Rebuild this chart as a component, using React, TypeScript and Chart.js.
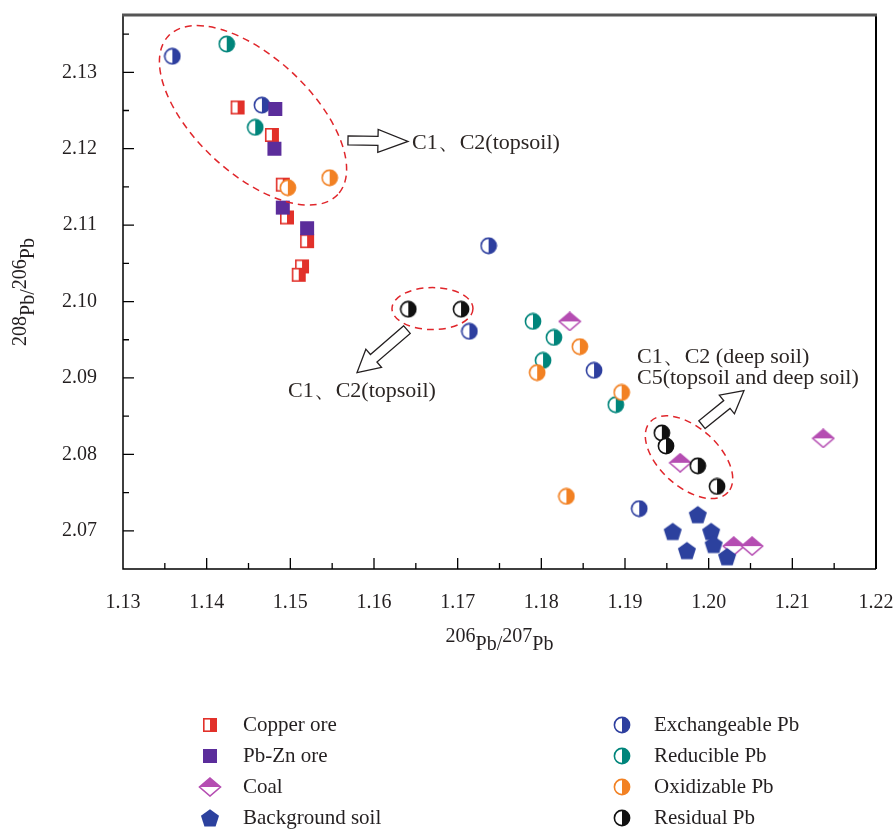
import React, { useEffect, useRef } from 'react';
import { Chart, registerables } from 'chart.js';

Chart.register(...registerables);

// ---------- data ----------
const copperX = [1.1437, 1.1478, 1.1491, 1.1496, 1.152, 1.1514, 1.151];
const copperY = [2.1254, 2.1218, 2.1153, 2.111, 2.1079, 2.1046, 2.1035];
const pbznX = [1.1482, 1.1481, 1.1491, 1.152];
const pbznY = [2.1252, 2.12, 2.1123, 2.1096];
const coalX = [1.1834, 1.1966, 1.2137, 1.203, 1.2052];
const coalY = [2.0974, 2.0789, 2.0821, 2.068, 2.068];
const bgX = [1.1987, 1.1957, 1.2003, 1.1974, 1.2006, 1.2022];
const bgY = [2.0721, 2.0699, 2.0699, 2.0674, 2.0682, 2.0666];
const exchX = [1.1359, 1.1466, 1.1737, 1.1714, 1.1863, 1.1917];
const exchY = [2.1321, 2.1257, 2.1073, 2.0961, 2.091, 2.0729];
const reduX = [1.1424, 1.1458, 1.179, 1.1815, 1.1802, 1.1889];
const reduY = [2.1337, 2.1228, 2.0974, 2.0953, 2.0923, 2.0865];
const oxiX = [1.1497, 1.1547, 1.1795, 1.1846, 1.1896, 1.183];
const oxiY = [2.1149, 2.1162, 2.0907, 2.0941, 2.0881, 2.0745];
const resX = [1.1641, 1.1704, 1.1944, 1.1949, 1.1987, 1.201];
const resY = [2.099, 2.099, 2.0828, 2.0811, 2.0785, 2.0758];

const xTicks = [1.13, 1.14, 1.15, 1.16, 1.17, 1.18, 1.19, 1.2, 1.21, 1.22];
const yTicks = [2.07, 2.08, 2.09, 2.1, 2.11, 2.12, 2.13];
const xMin = 1.13, xMax = 1.22, yMin = 2.065, yMax = 2.1375;

const legendLeft = ['Copper ore', 'Pb-Zn ore', 'Coal', 'Background soil'];
const legendRight = ['Exchangeable Pb', 'Reducible Pb', 'Oxidizable Pb', 'Residual Pb'];

// annotations (anchored in data units)
const ellipses = [
  { x: 1.14554, y: 2.12437, rx: 116, ry: 58, rot: 43 },
  { x: 1.16699, y: 2.09908, rx: 40.5, ry: 21, rot: 0 },
  { x: 1.19765, y: 2.07963, rx: 52.5, ry: 29.5, rot: 42 },
];
const arrows = [
  { x1: 1.15689, y1: 2.12109, x2: 1.16406, y2: 2.12096, shaft: 4.5, head: 11.5, len: 30 },
  { x1: 1.16394, y1: 2.09633, x2: 1.15797, y2: 2.0907, shaft: 5, head: 12, len: 22 },
  { x1: 1.1992, y1: 2.08389, x2: 1.20422, y2: 2.08834, shaft: 5, head: 12, len: 22 },
];
const notes = [
  { x: 1.16454, y: 2.1207, text: 'C1、C2(topsoil)' },
  { x: 1.14972, y: 2.08821, text: 'C1、C2(topsoil)' },
  { x: 1.19143, y: 2.09266, text: 'C1、C2 (deep soil)' },
  { x: 1.19143, y: 2.08991, text: 'C5(topsoil and deep soil)' },
];

const SERIF = "'Liberation Serif', 'DejaVu Serif', serif";

// ---------- marker images ----------
function mk(w: number, h: number, draw: (c: CanvasRenderingContext2D) => void) {
  const c = document.createElement('canvas');
  c.width = w;
  c.height = h;
  const ctx = c.getContext('2d')!;
  draw(ctx);
  return c;
}
const halfCircle = (color: string) =>
  mk(18, 18, (c) => {
    c.beginPath();
    c.arc(9, 9, 7.6, 0, Math.PI * 2);
    c.fillStyle = '#fff';
    c.fill();
    c.beginPath();
    c.arc(9, 9, 7.6, -Math.PI / 2, Math.PI / 2);
    c.closePath();
    c.fillStyle = color;
    c.fill();
    c.beginPath();
    c.arc(9, 9, 7.6, 0, Math.PI * 2);
    c.lineWidth = 1.6;
    c.strokeStyle = color;
    c.stroke();
  });
const halfSquare = (color: string) =>
  mk(16, 16, (c) => {
    c.fillStyle = '#fff';
    c.fillRect(1, 1, 14, 14);
    c.fillStyle = color;
    c.fillRect(8, 1, 7, 14);
    c.lineWidth = 1.6;
    c.strokeStyle = color;
    c.strokeRect(1.8, 1.8, 12.4, 12.4);
  });
const fullSquare = (color: string) =>
  mk(16, 16, (c) => {
    c.fillStyle = color;
    c.fillRect(1, 1, 14, 14);
  });
const halfDiamond = (color: string) =>
  mk(24, 20, (c) => {
    c.beginPath();
    c.moveTo(12, 1);
    c.lineTo(22.5, 10);
    c.lineTo(12, 19);
    c.lineTo(1.5, 10);
    c.closePath();
    c.fillStyle = '#fff';
    c.fill();
    c.lineWidth = 1.6;
    c.strokeStyle = color;
    c.stroke();
    c.beginPath();
    c.moveTo(12, 1);
    c.lineTo(22.5, 10);
    c.lineTo(1.5, 10);
    c.closePath();
    c.fillStyle = color;
    c.fill();
  });
const pentagon = (color: string) =>
  mk(22, 22, (c) => {
    c.beginPath();
    for (let k = 0; k < 5; k++) {
      const a = -Math.PI / 2 + (k * 2 * Math.PI) / 5;
      const px = 11 + 9.5 * Math.cos(a);
      const py = 11.8 + 9.5 * Math.sin(a);
      if (k === 0) c.moveTo(px, py);
      else c.lineTo(px, py);
    }
    c.closePath();
    c.fillStyle = color;
    c.fill();
  });

function drawArrow(ctx: CanvasRenderingContext2D, x1: number, y1: number, x2: number, y2: number, sh: number, hh: number, hl: number) {
  const dx = x2 - x1, dy = y2 - y1;
  const L = Math.hypot(dx, dy);
  const ux = dx / L, uy = dy / L;
  const nx = -uy, ny = ux;
  const bx = x2 - ux * hl, by = y2 - uy * hl;
  ctx.beginPath();
  ctx.moveTo(x1 + nx * sh, y1 + ny * sh);
  ctx.lineTo(bx + nx * sh, by + ny * sh);
  ctx.lineTo(bx + nx * hh, by + ny * hh);
  ctx.lineTo(x2, y2);
  ctx.lineTo(bx - nx * hh, by - ny * hh);
  ctx.lineTo(bx - nx * sh, by - ny * sh);
  ctx.lineTo(x1 - nx * sh, y1 - ny * sh);
  ctx.closePath();
  ctx.fillStyle = '#fff';
  ctx.fill();
  ctx.lineWidth = 1.3;
  ctx.strokeStyle = '#231f20';
  ctx.stroke();
}

function drawIsoLabel(ctx: CanvasRenderingContext2D, parts: [string, boolean][], cx: number, cy: number, size: number, raise: number) {
  ctx.font = `${size}px ${SERIF}`;
  const widths = parts.map((p) => ctx.measureText(p[0]).width);
  const total = widths.reduce((a, b) => a + b, 0);
  let x = cx - total / 2;
  ctx.textAlign = 'left';
  ctx.textBaseline = 'alphabetic';
  parts.forEach((p, i) => {
    ctx.fillText(p[0], x, cy - (p[1] ? raise : 0));
    x += widths[i];
  });
}

const zeroPad = (s: any) => {
  s.paddingLeft = 0;
  s.paddingRight = 0;
  s.paddingTop = 0;
  s.paddingBottom = 0;
};

export default function App() {
  const ref = useRef<HTMLCanvasElement>(null);
  useEffect(() => {
    const canvas = ref.current!;
    const styles = {
      copper: halfSquare('#e2312a'),
      pbzn: fullSquare('#5b2d9b'),
      coal: halfDiamond('#b54db2'),
      bg: pentagon('#2c419e'),
      exch: halfCircle('#2e3f9f'),
      redu: halfCircle('#00857b'),
      oxi: halfCircle('#f28123'),
      res: halfCircle('#111111'),
    };
    const pts = (xs: number[], ys: number[]) => xs.map((x, i) => ({ x, y: ys[i] }));
    const ds = (label: string, xs: number[], ys: number[], style: HTMLCanvasElement, order: number) => ({
      label,
      data: pts(xs, ys),
      pointStyle: style,
      pointRadius: 8,
      pointHoverRadius: 8,
      order,
      showLine: false,
    });

    const framePlugin = {
      id: 'frame',
      afterDraw(chart: any) {
        const ctx: CanvasRenderingContext2D = chart.ctx;
        const a = chart.chartArea;
        const xs = chart.scales.x, ys = chart.scales.y;
        ctx.save();
        // annotations
        ctx.setLineDash([7, 5]);
        ctx.strokeStyle = '#e0262b';
        ctx.lineWidth = 1.5;
        ellipses.forEach((e) => {
          ctx.beginPath();
          ctx.ellipse(xs.getPixelForValue(e.x), ys.getPixelForValue(e.y), e.rx, e.ry, (e.rot * Math.PI) / 180, 0, Math.PI * 2);
          ctx.stroke();
        });
        ctx.setLineDash([]);
        arrows.forEach((r) =>
          drawArrow(ctx, xs.getPixelForValue(r.x1), ys.getPixelForValue(r.y1), xs.getPixelForValue(r.x2), ys.getPixelForValue(r.y2), r.shaft, r.head, r.len)
        );
        ctx.fillStyle = '#2b2523';
        ctx.font = `22px ${SERIF}`;
        ctx.textAlign = 'left';
        ctx.textBaseline = 'middle';
        notes.forEach((n) => ctx.fillText(n.text, xs.getPixelForValue(n.x), ys.getPixelForValue(n.y)));

        // frame
        ctx.strokeStyle = '#000';
        ctx.lineWidth = 1.5;
        ctx.beginPath();
        ctx.moveTo(a.left, a.top);
        ctx.lineTo(a.left, a.bottom);
        ctx.lineTo(a.right, a.bottom);
        ctx.stroke();
        ctx.lineWidth = 2;
        ctx.beginPath();
        ctx.moveTo(a.right, a.top);
        ctx.lineTo(a.right, a.bottom);
        ctx.stroke();
        ctx.strokeStyle = '#555';
        ctx.lineWidth = 3;
        ctx.beginPath();
        ctx.moveTo(a.left - 1, a.top);
        ctx.lineTo(a.right + 1, a.top);
        ctx.stroke();

        // ticks (inward), major + minor
        ctx.strokeStyle = '#000';
        ctx.lineWidth = 1.3;
        ctx.beginPath();
        const xVals: number[] = [];
        xTicks.forEach((v, i) => {
          xVals.push(v);
          if (i < xTicks.length - 1) xVals.push(-(v + xTicks[i + 1]) / 2);
        });
        xVals.forEach((v) => {
          const minor = v < 0;
          const val = Math.abs(v);
          if (val <= xMin + 1e-6 || val >= xMax - 1e-6) return;
          const px = xs.getPixelForValue(val);
          ctx.moveTo(px, a.bottom);
          ctx.lineTo(px, a.bottom - (minor ? 6 : 11));
        });
        const yVals: number[] = [];
        yTicks.forEach((v, i) => {
          yVals.push(v);
          yVals.push(-(v - (i === 0 ? 0.005 : (v - yTicks[i - 1]) / 2)));
        });
        yVals.push(-(yTicks[yTicks.length - 1] + 0.005));
        yVals.forEach((v) => {
          const minor = v < 0;
          const val = Math.abs(v);
          if (val <= yMin + 1e-6 || val > yMax) return;
          const py = ys.getPixelForValue(val);
          ctx.moveTo(a.left, py);
          ctx.lineTo(a.left + (minor ? 6 : 11), py);
        });
        ctx.stroke();

        // axis titles
        ctx.fillStyle = '#231f20';
        drawIsoLabel(ctx, [['206', true], ['Pb/', false], ['207', true], ['Pb', false]], (a.left + a.right) / 2, 650, 20, 8);
        ctx.save();
        ctx.translate(34, (a.top + a.bottom) / 2);
        ctx.rotate(-Math.PI / 2);
        drawIsoLabel(ctx, [['208', true], ['Pb/', false], ['206', true], ['Pb', false]], 0, 0, 20, 8);
        ctx.restore();

        // legend
        const leftStyles = [styles.copper, styles.pbzn, styles.coal, styles.bg];
        const rightStyles = [styles.exch, styles.redu, styles.oxi, styles.res];
        const rowY = [725, 756, 787, 818];
        ctx.font = `21px ${SERIF}`;
        ctx.textBaseline = 'middle';
        ctx.textAlign = 'left';
        ctx.fillStyle = '#231f20';
        legendLeft.forEach((t, i) => {
          const s = leftStyles[i];
          ctx.drawImage(s, 210 - s.width / 2, rowY[i] - s.height / 2);
          ctx.fillText(t, 243, rowY[i]);
        });
        legendRight.forEach((t, i) => {
          const s = rightStyles[i];
          ctx.drawImage(s, 622 - s.width / 2, rowY[i] - s.height / 2);
          ctx.fillText(t, 654, rowY[i]);
        });
        ctx.restore();
      },
    };

    const chart = new Chart(canvas, {
      type: 'scatter',
      data: {
        datasets: [
          ds('Copper ore', copperX, copperY, styles.copper, 6),
          ds('Pb-Zn ore', pbznX, pbznY, styles.pbzn, 3),
          ds('Coal', coalX, coalY, styles.coal, 7),
          ds('Background soil', bgX, bgY, styles.bg, 5),
          ds('Exchangeable Pb', exchX, exchY, styles.exch, 4),
          ds('Reducible Pb', reduX, reduY, styles.redu, 2),
          ds('Oxidizable Pb', oxiX, oxiY, styles.oxi, 0),
          ds('Residual Pb', resX, resY, styles.res, 1),
        ] as any,
      },
      options: {
        animation: false,
        responsive: false,
        devicePixelRatio: 1,
        layout: { padding: { left: 0, top: 15, right: 19, bottom: 0 } },
        plugins: { legend: { display: false }, tooltip: { enabled: false } },
        scales: {
          x: {
            type: 'linear',
            min: xMin,
            max: xMax,
            afterBuildTicks: (s: any) => {
              s.ticks = xTicks.map((v) => ({ value: v }));
            },
            afterFit: (s: any) => {
              s.height = 260;
              zeroPad(s);
            },
            grid: { display: false, drawTicks: false },
            border: { display: false },
            ticks: {
              padding: 22,
              color: '#231f20',
              font: { family: SERIF, size: 20 },
              maxRotation: 0,
              autoSkip: false,
              callback: (v: any) => Number(v).toFixed(2),
            },
          },
          y: {
            type: 'linear',
            min: yMin,
            max: yMax,
            afterBuildTicks: (s: any) => {
              s.ticks = yTicks.map((v) => ({ value: v }));
            },
            afterFit: (s: any) => {
              s.width = 123;
              zeroPad(s);
            },
            grid: { display: false, drawTicks: false },
            border: { display: false },
            ticks: {
              padding: 26,
              color: '#231f20',
              font: { family: SERIF, size: 20 },
              autoSkip: false,
              callback: (v: any) => Number(v).toFixed(2),
            },
          },
        },
      },
      plugins: [framePlugin],
    } as any);
    return () => chart.destroy();
  }, []);

  return (
    <div style={{ position: 'fixed', left: 0, top: 0, width: 895, height: 829, background: '#fff' }}>
      <canvas ref={ref} width={895} height={829} style={{ width: 895, height: 829, display: 'block' }} />
    </div>
  );
}
